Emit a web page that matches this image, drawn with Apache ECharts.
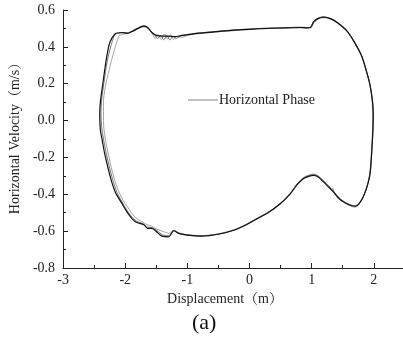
<!DOCTYPE html>
<html>
<head>
<meta charset="utf-8">
<script src="https://cdn.jsdelivr.net/npm/echarts@6/dist/echarts.min.js"></script>
<style>
  html, body { margin: 0; padding: 0; background: #fff; }
  #chart { width: 403px; height: 339px; }
</style>
</head>
<body>
<div id="chart"></div>
<script>
// Phase portrait: horizontal displacement (m) vs horizontal velocity (m/s), several cycles overlaid.
const xTicks = [-3, -2, -1, 0, 1, 2];
const yTicks = [-0.8, -0.6, -0.4, -0.2, 0.0, 0.2, 0.4, 0.6];

// Cycle 1 (dark trace)
const cycle1 = [
  [-2.15,0.474],[-2.05,0.478],[-1.97,0.473],[-1.88,0.485],[-1.78,0.503],[-1.70,0.512],
  [-1.64,0.505],[-1.57,0.478],[-1.50,0.462],[-1.40,0.458],[-1.30,0.458],[-1.20,0.455],
  [-1.09,0.462],[-0.95,0.468],[-0.80,0.474],[-0.60,0.480],[-0.29,0.489],[0.00,0.495],
  [0.34,0.501],[0.60,0.503],[0.82,0.505],[0.92,0.503],[0.98,0.505],[1.03,0.535],
  [1.10,0.553],[1.19,0.561],[1.30,0.553],[1.42,0.530],[1.56,0.489],[1.68,0.430],
  [1.80,0.354],[1.88,0.270],[1.94,0.191],[1.98,0.100],[1.99,0.028],[1.985,-0.053],
  [1.97,-0.150],[1.94,-0.287],[1.89,-0.360],[1.83,-0.414],[1.76,-0.452],[1.70,-0.465],
  [1.61,-0.458],[1.51,-0.441],[1.43,-0.420],[1.35,-0.387],[1.27,-0.360],[1.19,-0.333],
  [1.10,-0.305],[1.03,-0.297],[0.95,-0.303],[0.87,-0.314],[0.76,-0.350],[0.66,-0.396],
  [0.50,-0.450],[0.30,-0.500],[0.13,-0.531],[-0.05,-0.565],[-0.24,-0.594],[-0.50,-0.617],
  [-0.77,-0.627],[-1.00,-0.622],[-1.14,-0.612],[-1.22,-0.598],[-1.26,-0.615],[-1.30,-0.631],
  [-1.41,-0.627],[-1.49,-0.605],[-1.57,-0.585],[-1.64,-0.585],[-1.70,-0.565],[-1.83,-0.550],
  [-1.92,-0.520],[-1.99,-0.486],[-2.07,-0.440],[-2.15,-0.396],[-2.22,-0.330],[-2.28,-0.252],
  [-2.33,-0.180],[-2.37,-0.107],[-2.40,-0.050],[-2.41,0.030],[-2.40,0.100],[-2.36,0.200],
  [-2.31,0.320],[-2.26,0.410],[-2.21,0.450],[-2.15,0.474]
];

// Cycle 2 (light trace, inner on the left side)
const cycle2 = [
  [-2.10,0.462],[-2.02,0.470],[-1.94,0.474],[-1.86,0.486],[-1.78,0.500],[-1.70,0.508],
  [-1.63,0.500],[-1.57,0.475],[-1.52,0.448],[-1.47,0.468],[-1.42,0.440],[-1.37,0.470],
  [-1.32,0.442],[-1.27,0.466],[-1.22,0.440],[-1.17,0.458],[-1.10,0.452],[-0.95,0.466],
  [-0.80,0.472],[-0.60,0.479],[-0.29,0.487],[0.00,0.494],[0.34,0.500],[0.60,0.502],
  [0.82,0.503],[0.95,0.502],[1.00,0.506],[1.04,0.532],[1.10,0.550],[1.19,0.558],
  [1.30,0.551],[1.42,0.528],[1.56,0.486],[1.68,0.428],[1.80,0.352],[1.88,0.268],
  [1.94,0.188],[1.975,0.100],[1.985,0.025],[1.98,-0.055],[1.965,-0.150],[1.935,-0.285],
  [1.885,-0.362],[1.825,-0.418],[1.76,-0.456],[1.70,-0.470],[1.61,-0.462],[1.52,-0.445],
  [1.44,-0.418],[1.36,-0.390],[1.345,-0.368],[1.33,-0.372],[1.27,-0.352],[1.19,-0.325],
  [1.10,-0.298],[1.03,-0.290],[0.95,-0.296],[0.87,-0.309],[0.76,-0.345],[0.66,-0.392],
  [0.50,-0.447],[0.30,-0.497],[0.13,-0.528],[-0.05,-0.562],[-0.24,-0.591],[-0.50,-0.614],
  [-0.77,-0.624],[-1.00,-0.619],[-1.14,-0.609],[-1.21,-0.595],[-1.25,-0.600],[-1.30,-0.612],
  [-1.36,-0.605],[-1.42,-0.598],[-1.50,-0.588],[-1.58,-0.572],[-1.65,-0.565],[-1.72,-0.550],
  [-1.80,-0.535],[-1.88,-0.510],[-1.96,-0.470],[-2.04,-0.430],[-2.11,-0.380],[-2.19,-0.300],
  [-2.26,-0.200],[-2.32,-0.100],[-2.35,0.000],[-2.35,0.100],[-2.31,0.200],[-2.24,0.300],
  [-2.16,0.400],[-2.10,0.462]
];

// Cycle 3 (mid-tone trace)
const cycle3 = [
  [-2.17,0.470],[-2.06,0.476],[-1.97,0.476],[-1.88,0.488],[-1.78,0.505],[-1.70,0.514],
  [-1.64,0.507],[-1.58,0.482],[-1.53,0.468],[-1.48,0.445],[-1.43,0.462],[-1.38,0.438],
  [-1.33,0.460],[-1.28,0.437],[-1.23,0.458],[-1.18,0.446],[-1.10,0.460],[-0.95,0.470],
  [-0.80,0.476],[-0.60,0.482],[-0.29,0.491],[0.00,0.497],[0.34,0.503],[0.60,0.505],
  [0.82,0.507],[0.93,0.505],[0.99,0.508],[1.03,0.537],[1.10,0.555],[1.19,0.563],
  [1.30,0.555],[1.42,0.532],[1.56,0.491],[1.68,0.432],[1.80,0.356],[1.88,0.272],
  [1.94,0.193],[1.982,0.100],[1.993,0.030],[1.988,-0.050],[1.972,-0.148],[1.943,-0.285],
  [1.893,-0.358],[1.833,-0.412],[1.765,-0.450],[1.70,-0.462],[1.61,-0.455],[1.51,-0.437],
  [1.43,-0.415],[1.35,-0.382],[1.27,-0.355],[1.19,-0.328],[1.10,-0.301],[1.03,-0.293],
  [0.95,-0.300],[0.87,-0.312],[0.76,-0.348],[0.66,-0.394],[0.50,-0.449],[0.30,-0.499],
  [0.13,-0.530],[-0.05,-0.564],[-0.24,-0.593],[-0.50,-0.616],[-0.77,-0.626],[-1.00,-0.621],
  [-1.14,-0.611],[-1.22,-0.597],[-1.26,-0.610],[-1.30,-0.625],[-1.40,-0.620],[-1.48,-0.600],
  [-1.56,-0.582],[-1.64,-0.578],[-1.71,-0.560],[-1.82,-0.545],[-1.91,-0.516],[-1.98,-0.482],
  [-2.06,-0.436],[-2.13,-0.392],[-2.20,-0.322],[-2.26,-0.245],[-2.31,-0.170],[-2.35,-0.100],
  [-2.38,-0.030],[-2.39,0.040],[-2.38,0.110],[-2.34,0.210],[-2.29,0.320],[-2.23,0.405],
  [-2.17,0.470]
];

const serif = '"Liberation Serif", "Noto Serif CJK SC", "Noto Sans CJK SC", serif';
const chart = echarts.init(document.getElementById('chart'), null, { renderer: 'canvas' });

function traceSeries(name, data, color, width) {
  return {
    name: name,
    type: 'line',
    data: data,
    symbol: 'none',
    smooth: 0.3,
    animation: false,
    lineStyle: { color: color, width: width },
    itemStyle: { color: color },
    z: 2
  };
}

chart.setOption({
  backgroundColor: '#ffffff',
  animation: false,
  grid: { left: 60, top: 10, right: 0, bottom: 71, containLabel: false },
  legend: {
    data: [{ name: 'Horizontal Phase', icon: 'rect' }],
    left: 183,
    top: 88,
    itemWidth: 30,
    itemHeight: 1.2,
    itemGap: 0,
    textStyle: { fontFamily: serif, fontSize: 14, color: '#222', padding: [0, 0, 0, -4] }
  },
  xAxis: {
    type: 'value',
    min: xTicks[0],
    max: 2.47,
    interval: 1,
    name: 'Displacement（m）',
    nameLocation: 'middle',
    nameGap: 18,
    nameTextStyle: { fontFamily: serif, fontSize: 14, color: '#222', padding: [0, 16, 0, 0] },
    axisLine: { onZero: false, lineStyle: { color: '#222', width: 1 } },
    axisTick: { inside: true, length: 5, lineStyle: { color: '#222' } },
    minorTick: { show: true, splitNumber: 2, length: 3, lineStyle: { color: '#222' } },
    axisLabel: {
      margin: 5, fontFamily: serif, fontSize: 14, color: '#222',
      showMaxLabel: false,
      formatter: v => (xTicks.indexOf(v) >= 0 ? String(v) : '')
    },
    splitLine: { show: false }
  },
  yAxis: {
    type: 'value',
    min: yTicks[0],
    max: yTicks[yTicks.length - 1],
    interval: 0.2,
    name: 'Horizontal Velocity（m/s）',
    nameLocation: 'middle',
    nameGap: 30,
    nameRotate: 90,
    nameTextStyle: { fontFamily: serif, fontSize: 14, color: '#222', padding: [0, 0, 0, 8] },
    axisLine: { onZero: false, lineStyle: { color: '#222', width: 1 } },
    axisTick: { inside: true, length: 5, lineStyle: { color: '#222' } },
    minorTick: { show: true, splitNumber: 2, length: 3, lineStyle: { color: '#222' } },
    axisLabel: {
      margin: 8, fontFamily: serif, fontSize: 14, color: '#222',
      formatter: v => v.toFixed(1)
    },
    splitLine: { show: false }
  },
  graphic: [{
    type: 'text',
    left: 192,
    top: 312,
    style: { text: '(a)', font: '22px ' + serif, fill: '#111' }
  }],
  series: [
    traceSeries('Horizontal Phase', cycle2, '#9a9a9a', 0.9),
    traceSeries('cycle3', cycle3, '#555555', 0.8),
    traceSeries('cycle1', cycle1, '#111111', 1.2)
  ]
});
</script>
</body>
</html>
